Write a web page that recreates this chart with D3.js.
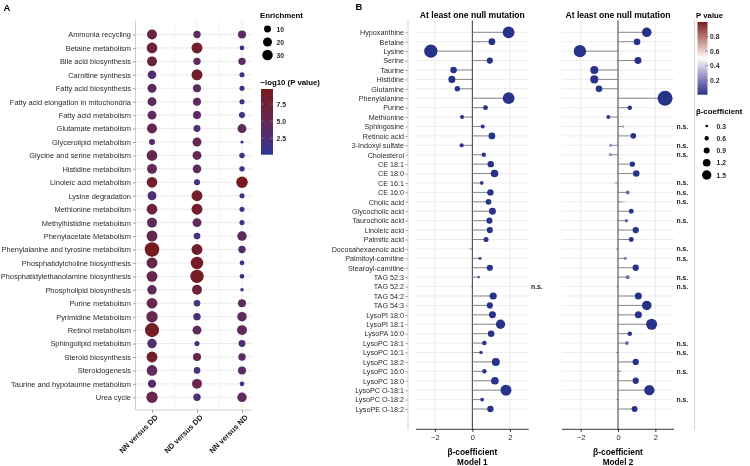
<!DOCTYPE html>
<html>
<head>
<meta charset="utf-8">
<script src="https://cdn.jsdelivr.net/npm/d3@7"></script>
<style>
body { margin: 0; background: #fff; }
svg { font-family: "Liberation Sans", Arial, sans-serif; will-change: transform; }
</style>
</head>
<body>
<div id="chart"></div>
<script>
// ---- panel A data ----
const pathways = [
  "Ammonia recycling", "Betaine metabolism", "Bile acid biosynthesis", "Carnitine synthesis",
  "Fatty acid biosynthesis", "Fatty acid elongation in mitochondria", "Fatty acid metabolism",
  "Glutamate metabolism", "Glycerolipid metabolism", "Glycine and serine metabolism",
  "Histidine metabolism", "Linoleic acid metabolism", "Lysine degradation", "Methionine metabolism",
  "Methylhistidine metabolism", "Phenylacetate Metabolism", "Phenylalanine and tyrosine metabolism",
  "Phosphatidylcholine biosynthesis", "Phosphatidylethanolamine biosynthesis", "Phospholipid biosynthesis",
  "Purine metabolism", "Pyrimidine Metabolism", "Retinol metabolism", "Sphingolipid metabolism",
  "Steroid biosynthesis", "Steroidogenesis", "Taurine and hypotaurine metabolism", "Urea cycle"
];
const comparisons = ["NN versus DD", "ND versus DD", "NN versus ND"];

const enrichNNvsDD = [26, 31, 26, 18, 20, 20, 20, 26, 7, 31, 26, 31, 20, 31, 26, 33, 66, 33, 33, 23, 31, 37, 60, 23, 33, 31, 15, 37];
const enrichNDvsDD = [12, 33, 12, 33, 15, 15, 15, 10, 20, 20, 18, 7, 33, 33, 20, 9, 33, 46, 54, 26, 9, 12, 20, 4, 15, 9, 26, 12];
const enrichNNvsND = [15, 3, 12, 4, 4, 4, 7, 20, 0.5, 5, 5, 37, 4, 4, 4, 23, 12, 3, 3, 1, 15, 23, 26, 10, 12, 15, 3, 23];

const logpNNvsDD = [6.5, 7.5, 7, 3, 4.5, 4.5, 4.5, 5.5, 3, 5.5, 5, 8.5, 3, 7.5, 4.5, 5.5, 9.5, 6, 6, 4.5, 6, 5.5, 9, 3, 8.5, 4.5, 3, 5.5];
const logpNDvsDD = [4, 8.5, 4, 8.5, 4, 4, 4, 2.5, 5, 5, 4.5, 1.8, 8.5, 8.5, 4.5, 2, 8.5, 9, 9, 7, 2, 2.5, 4.5, 1.5, 5.5, 2, 6, 2.5];
const logpNNvsND = [4, 1.2, 4, 1.3, 1.3, 1.3, 1.5, 4.5, 0.8, 1.5, 1.5, 9.6, 1.3, 1.3, 1.3, 4.5, 2.8, 1.2, 1.2, 1.0, 4, 4.5, 4.5, 2.5, 4, 3.5, 1.2, 4.5];

const enrichLegend = [10, 20, 30];
const logpTicks = [2.5, 5.0, 7.5];

// ---- panel B data ----
const metabolites = [
  "Hypoxanthine", "Betaine", "Lysine", "Serine", "Taurine", "Histidine", "Glutamine", "Phenylalanine",
  "Purine", "Methionine", "Sphingosine", "Retinoic acid", "3-Indoxyl sulfate", "Cholesterol",
  "CE 18:1", "CE 18:0", "CE 16:1", "CE 16:0", "Cholic acid", "Glycocholic acid", "Taurocholic acid",
  "Linoleic acid", "Palmitic acid", "Docosahexaenoic acid", "Palmitoyl-carnitine", "Stearoyl-carnitine",
  "TAG 52:3", "TAG 52:2", "TAG 54:2", "TAG 54:3", "LysoPI 18:0", "LysoPI 18:1", "LysoPA 16:0",
  "LysoPC 18:1", "LysoPC 16:1", "LysoPC 18:2", "LysoPC 16:0", "LysoPC 18:0", "LysoPC O-18:1",
  "LysoPC O-18:2", "LysoPE O-18:2"
];
const betaModel1 = [1.93, 1.04, -2.21, 0.93, -1.0, -1.09, -0.80, 1.93, 0.70, -0.55, 0.55, 1.04, -0.57, 0.61,
  0.98, 1.18, 0.50, 0.96, 0.86, 1.07, 0.91, 0.93, 0.73, -0.16, 0.41, 0.93, 0.34, -0.02, 1.11, 0.93,
  1.07, 1.50, 1.00, 0.64, 0.46, 1.25, 0.64, 1.20, 1.79, 0.52, 0.96];
const pModel1 = [0.001, 0.001, 0.001, 0.001, 0.001, 0.001, 0.001, 0.001, 0.001, 0.001, 0.01, 0.001, 0.01, 0.01,
  0.001, 0.001, 0.02, 0.001, 0.001, 0.001, 0.001, 0.001, 0.001, 0.42, 0.08, 0.001, 0.15, 0.95, 0.001, 0.001,
  0.001, 0.001, 0.001, 0.01, 0.03, 0.001, 0.01, 0.001, 0.001, 0.02, 0.001];
const betaModel2 = [1.54, 1.02, -2.04, 1.07, -1.27, -1.27, -1.02, 2.52, 0.63, -0.52, 0.27, 0.82, -0.39, -0.41,
  0.77, 0.98, -0.18, 0.52, 0.30, 0.71, 0.45, 0.95, 0.71, -0.05, 0.39, 0.95, 0.52, -0.04, 1.09, 1.54,
  1.09, 1.80, 0.63, 0.48, -0.05, 0.95, 0.10, 0.95, 1.68, -0.04, 0.89];
const pModel2 = [0.001, 0.001, 0.001, 0.001, 0.001, 0.001, 0.001, 0.001, 0.001, 0.01, 0.3, 0.001, 0.25, 0.25,
  0.001, 0.001, 0.45, 0.15, 0.42, 0.001, 0.15, 0.001, 0.001, 0.9, 0.2, 0.001, 0.15, 0.9, 0.001, 0.001,
  0.001, 0.001, 0.01, 0.12, 0.9, 0.001, 0.85, 0.001, 0.001, 0.9, 0.001];
const nsModel1 = ["TAG 52:2"];
const nsModel2 = ["Sphingosine", "3-Indoxyl sulfate", "Cholesterol", "CE 16:1", "CE 16:0", "Cholic acid",
  "Taurocholic acid", "Docosahexaenoic acid", "Palmitoyl-carnitine", "TAG 52:3", "TAG 52:2",
  "LysoPC 18:1", "LysoPC 16:1", "LysoPC 16:0", "LysoPC O-18:2"];
const betaTicks = [-2, 0, 2];
const pTicks = [0.2, 0.4, 0.6, 0.8];
const betaLegend = [0.3, 0.6, 0.9, 1.2, 1.5];

const svg = d3.select("#chart").append("svg")
  .attr("width", 750)
  .attr("height", 466);

const grid = "#ebebeb";
const textCol = "#2a2a2a";

// ================= Panel A =================
const A = {left: 135.5, right: 252, top: 20.5, bottom: 410};
const yA = d3.scalePoint().domain(pathways).range([34.5, 397.3]);
const xA = d3.scalePoint().domain(comparisons).range([152, 242]);
const rA = d3.scaleSqrt().domain([0, 70]).range([1, 7.5]);
const colA = d3.scaleLinear().domain([0.1, 9.7]).range(["#283593", "#761a1e"]).interpolate(d3.interpolateLab);

const gA = svg.append("g");

gA.selectAll(".hgridA").data(pathways).enter().append("line")
  .attr("x1", A.left).attr("x2", A.right)
  .attr("y1", d => yA(d)).attr("y2", d => yA(d))
  .attr("stroke", grid).attr("stroke-width", 1);

const minorA = [0.5, 1.5].map(i => xA(comparisons[0]) + i * xA.step());
gA.selectAll(".vminorA").data(minorA).enter().append("line")
  .attr("x1", d => d).attr("x2", d => d)
  .attr("y1", A.top).attr("y2", A.bottom)
  .attr("stroke", "#f2f2f2");
gA.selectAll(".vgridA").data(comparisons).enter().append("line")
  .attr("x1", d => xA(d)).attr("x2", d => xA(d))
  .attr("y1", A.top).attr("y2", A.bottom)
  .attr("stroke", grid);

const enrichAll = [enrichNNvsDD, enrichNDvsDD, enrichNNvsND];
const logpAll = [logpNNvsDD, logpNDvsDD, logpNNvsND];
const cellsA = pathways.flatMap((p, i) => comparisons.map((c, j) => ({
  pathway: p, comp: c, enrich: enrichAll[j][i], logp: logpAll[j][i]
})));

gA.selectAll(".dotA").data(cellsA).enter().append("circle")
  .attr("cx", d => xA(d.comp))
  .attr("cy", d => yA(d.pathway))
  .attr("r", d => rA(d.enrich))
  .attr("fill", d => colA(d.logp));

// axis lines
gA.append("line").attr("x1", A.left).attr("x2", A.left).attr("y1", A.top).attr("y2", A.bottom)
  .attr("stroke", "#d0d0d0");
gA.append("line").attr("x1", A.left).attr("x2", A.right).attr("y1", A.bottom).attr("y2", A.bottom)
  .attr("stroke", "#d0d0d0");

const yAxisA = gA.append("g").attr("transform", `translate(${A.left},0)`)
  .call(d3.axisLeft(yA).tickSize(2.5).tickPadding(2));
yAxisA.select(".domain").remove();
yAxisA.selectAll("line").attr("stroke", "#999");
yAxisA.selectAll("text").attr("font-size", "7.45px").attr("fill", textCol).attr("font-family", null);

const xAxisA = gA.append("g").attr("transform", `translate(0,${A.bottom})`)
  .call(d3.axisBottom(xA).tickSize(2.5));
xAxisA.select(".domain").remove();
xAxisA.selectAll("line").attr("stroke", "#999");
xAxisA.selectAll("text")
  .attr("font-size", "7.6px").attr("font-weight", "bold").attr("fill", "#222").attr("font-family", null)
  .attr("text-anchor", "end")
  .attr("transform", "rotate(-45)")
  .attr("dx", "-0.2em").attr("dy", "0.55em");

svg.append("text").attr("x", 3.5).attr("y", 10.5)
  .attr("font-size", "9.5px").attr("font-weight", "bold").text("A");

// legend A: enrichment
const legA = svg.append("g");
legA.append("text").attr("x", 260).attr("y", 18)
  .attr("font-size", "7.8px").attr("font-weight", "bold").text("Enrichment");
legA.selectAll(".szA").data(enrichLegend).enter().append("circle")
  .attr("cx", 267.5).attr("cy", (d, i) => 29 + i * 13)
  .attr("r", d => rA(d)).attr("fill", "#000");
legA.selectAll(".szAt").data(enrichLegend).enter().append("text")
  .attr("x", 276.5).attr("y", (d, i) => 29 + i * 13 + 2.6)
  .attr("font-size", "6.8px").attr("font-weight", "bold").attr("fill", textCol).text(d => d);

// legend A: colour bar
legA.append("text").attr("x", 260.5).attr("y", 85)
  .attr("font-size", "7.8px").attr("font-weight", "bold").text("\u2212log10 (P value)");
const defs = svg.append("defs");
const gradA = defs.append("linearGradient").attr("id", "gradA")
  .attr("x1", 0).attr("y1", 1).attr("x2", 0).attr("y2", 0);
d3.range(0, 1.0001, 0.1).forEach(t => {
  gradA.append("stop").attr("offset", t)
    .attr("stop-color", colA(colA.domain()[0] + t * (colA.domain()[1] - colA.domain()[0])));
});
const barA = {x: 261, y: 89, w: 12, h: 65.7};
const barAScale = d3.scaleLinear().domain(colA.domain()).range([barA.y + barA.h, barA.y]);
legA.append("rect").attr("x", barA.x).attr("y", barA.y).attr("width", barA.w).attr("height", barA.h)
  .attr("fill", "url(#gradA)");
logpTicks.forEach(t => {
  [barA.x, barA.x + barA.w - 2.4].forEach(x0 => {
    legA.append("line").attr("x1", x0).attr("x2", x0 + 2.4)
      .attr("y1", barAScale(t)).attr("y2", barAScale(t))
      .attr("stroke", "#fff").attr("stroke-opacity", 0.5).attr("stroke-width", 0.6);
  });
});
legA.selectAll(".cbA").data(logpTicks).enter().append("text")
  .attr("x", 276.5).attr("y", d => barAScale(d) + 2.5)
  .attr("font-size", "6.8px").attr("font-weight", "bold").attr("fill", textCol)
  .text(d => d.toFixed(1));

// ================= Panel B =================
const B = {top: 20.5, bottom: 429.3};
const yB = d3.scalePoint().domain(metabolites).range([32.3, 409]);
const rB = d3.scaleLinear().domain([0, 2.5]).range([0.5, 7.45]);
const colB = d3.scaleLinear().domain([0, 0.5, 1])
  .range(["#263289", "#ffffff", "#7a1a1f"]).interpolate(d3.interpolateLab);

const models = [
  {name: "Model 1", left: 416, right: 528.7, beta: betaModel1, p: pModel1, ns: nsModel1, nsX: 531, labels: true},
  {name: "Model 2", left: 562, right: 674, beta: betaModel2, p: pModel2, ns: nsModel2, nsX: 676.5, labels: false}
];

models.forEach(m => {
  const x = d3.scaleLinear().domain([-3, 3]).range([m.left, m.right]);
  const g = svg.append("g");

  g.selectAll(".hg").data(metabolites).enter().append("line")
    .attr("x1", m.left).attr("x2", m.right)
    .attr("y1", d => yB(d)).attr("y2", d => yB(d))
    .attr("stroke", "#eeeeee");
  g.selectAll(".vg").data(betaTicks.filter(t => t !== 0)).enter().append("line")
    .attr("x1", d => x(d)).attr("x2", d => x(d))
    .attr("y1", B.top).attr("y2", B.bottom)
    .attr("stroke", grid);
  g.append("line").attr("x1", x(0)).attr("x2", x(0))
    .attr("y1", B.top).attr("y2", B.bottom)
    .attr("stroke", "#222").attr("stroke-width", 0.9);

  const rows = metabolites.map((d, i) => ({name: d, beta: m.beta[i], p: m.p[i]}));

  g.selectAll(".stem").data(rows).enter().append("line")
    .attr("x1", x(0)).attr("x2", d => x(d.beta))
    .attr("y1", d => yB(d.name)).attr("y2", d => yB(d.name))
    .attr("stroke", "#7d7d7d").attr("stroke-width", 0.9);

  g.selectAll(".dot").data(rows).enter().append("circle")
    .attr("cx", d => x(d.beta))
    .attr("cy", d => yB(d.name))
    .attr("r", d => rB(Math.abs(d.beta)))
    .attr("fill", d => colB(d.p));

  g.selectAll(".ns").data(m.ns).enter().append("text")
    .attr("x", m.nsX).attr("y", d => yB(d) + 2.5)
    .attr("font-size", "6.8px").attr("font-weight", "bold").attr("fill", "#222")
    .text("n.s.");

  const xAxis = g.append("g").attr("transform", `translate(0,${B.bottom})`)
    .call(d3.axisBottom(x).tickValues(betaTicks).tickSize(2.5).tickFormat(d3.format("d")));
  xAxis.select(".domain").attr("stroke", "#222").attr("stroke-width", 0.9)
    .attr("d", `M${m.left},0H${m.right}`);
  xAxis.selectAll("line").attr("stroke", "#222");
  xAxis.selectAll("text").attr("font-size", "7.5px").attr("fill", textCol).attr("font-family", null);

  const cx = (m.left + m.right) / 2;
  g.append("text").attr("x", cx).attr("y", 17.5).attr("text-anchor", "middle")
    .attr("font-size", "8.6px").attr("font-weight", "bold").text("At least one null mutation");
  g.append("text").attr("x", cx).attr("y", 454.5).attr("text-anchor", "middle")
    .attr("font-size", "8.4px").attr("font-weight", "bold").text("\u03b2-coefficient");
  g.append("text").attr("x", cx).attr("y", 465).attr("text-anchor", "middle")
    .attr("font-size", "8.2px").attr("font-weight", "bold").text(m.name);

  if (m.labels) {
    const yAxis = g.append("g").attr("transform", "translate(408,0)")
      .call(d3.axisLeft(yB).tickSize(2.5).tickPadding(1.5));
    yAxis.select(".domain").remove();
    yAxis.selectAll("line").attr("stroke", "#999");
    yAxis.selectAll("text").attr("font-size", "7.2px").attr("fill", textCol).attr("font-family", null);
  }
});

// light separator lines
[408, 694.5].forEach(xv => {
  svg.append("line").attr("x1", xv).attr("x2", xv).attr("y1", B.top).attr("y2", 430)
    .attr("stroke", "#d3d3d3");
});

svg.append("text").attr("x", 355.5).attr("y", 9.5)
  .attr("font-size", "9.5px").attr("font-weight", "bold").text("B");

// legend B: p value colour bar
const legB = svg.append("g");
legB.append("text").attr("x", 696).attr("y", 18)
  .attr("font-size", "7.8px").attr("font-weight", "bold").text("P value");
const gradB = defs.append("linearGradient").attr("id", "gradB")
  .attr("x1", 0).attr("y1", 1).attr("x2", 0).attr("y2", 0);
d3.range(0, 1.0001, 0.05).forEach(t => {
  gradB.append("stop").attr("offset", t).attr("stop-color", colB(t));
});
const barB = {x: 697.5, y: 22, w: 10, h: 72.7};
const barBScale = d3.scaleLinear().domain([0, 1]).range([barB.y + barB.h, barB.y]);
legB.append("rect").attr("x", barB.x).attr("y", barB.y).attr("width", barB.w).attr("height", barB.h)
  .attr("fill", "url(#gradB)");
pTicks.forEach(t => {
  legB.append("line").attr("x1", barB.x + barB.w - 2).attr("x2", barB.x + barB.w + 0.5)
    .attr("y1", barBScale(t)).attr("y2", barBScale(t))
    .attr("stroke", "#555").attr("stroke-width", 0.6);
});
legB.selectAll(".cbB").data(pTicks).enter().append("text")
  .attr("x", 710).attr("y", d => barBScale(d) + 2.5)
  .attr("font-size", "6.8px").attr("font-weight", "bold").attr("fill", textCol)
  .text(d => d.toFixed(1));

// legend B: beta size
legB.append("text").attr("x", 696).attr("y", 113.5)
  .attr("font-size", "7.8px").attr("font-weight", "bold").text("\u03b2-coefficient");
legB.selectAll(".szB").data(betaLegend).enter().append("circle")
  .attr("cx", 706.7).attr("cy", (d, i) => 126 + i * 12.25)
  .attr("r", d => rB(d)).attr("fill", "#000");
legB.selectAll(".szBt").data(betaLegend).enter().append("text")
  .attr("x", 716.5).attr("y", (d, i) => 126 + i * 12.25 + 2.5)
  .attr("font-size", "6.8px").attr("font-weight", "bold").attr("fill", textCol)
  .text(d => d.toFixed(1));
</script>
</body>
</html>
